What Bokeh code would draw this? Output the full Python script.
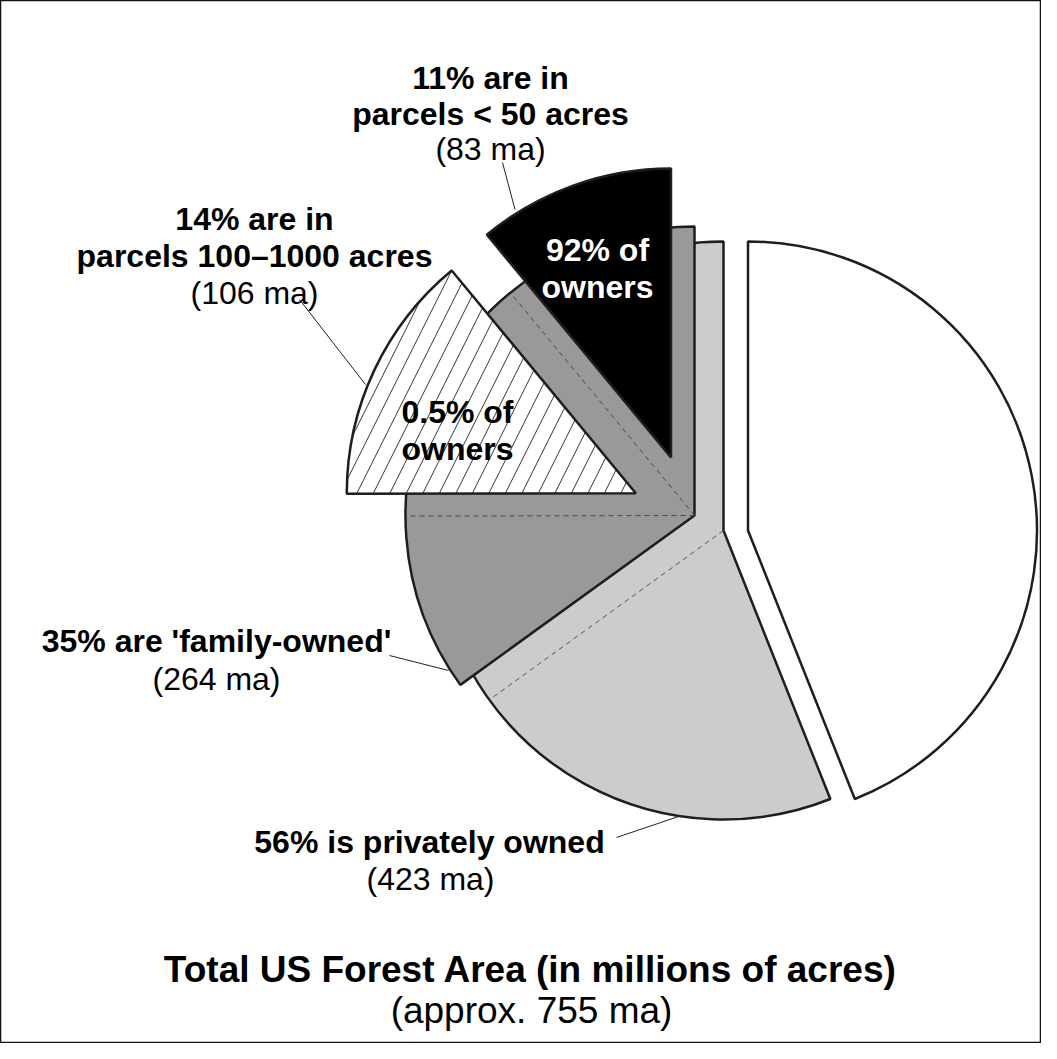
import math
from bokeh.plotting import figure
from bokeh.models import Range1d
from bokeh.core.properties import value
from bokeh.embed import file_html
from bokeh.resources import INLINE

# ---------------- data (millions of acres) ----------------
total_acres = 755
private_acres = 423
family_acres = 264
small_parcel_acres = 83      # parcels < 50 acres
mid_parcel_acres = 106       # parcels 100–1000 acres
small_owner_share = "92%"
mid_owner_share = "0.5%"
small_range_label = "< 50 acres"
mid_range_label = "100–1000 acres"
chart_title = "Total US Forest Area (in millions of acres)"


def pct(v):
    return round(100 * v / total_acres)


def ang(acres):
    # angle (deg) swept by a share of the total
    return 360.0 * acres / total_acres


# ---------------- layout ----------------
W, H = 1041, 1043


def Y(py):
    # reference pixel row -> data y (y axis points up)
    return 1059 - py


R = 289
FONT = value("Liberation Sans")
EDGE = "#1e1e1e"

p = figure(width=W, height=H, x_range=Range1d(8, 1049), y_range=Range1d(8, 1051),
           output_backend="svg", toolbar_location=None, min_border=0,
           x_axis_location=None, y_axis_location=None)
p.grid.visible = False
p.outline_line_color = "#111111"
p.outline_line_width = 1.5
p.background_fill_color = "white"
p.border_fill_color = "white"

top = 90.0
a_private = ang(private_acres)
a_family = ang(family_acres)
a_small = ang(small_parcel_acres)
a_mid = ang(mid_parcel_acres)

rad = math.radians

# private (light grey)
pc = (731, Y(538))
p.wedge(x=[pc[0]], y=[pc[1]], radius=R, start_angle=rad(top), end_angle=rad(top + a_private),
        fill_color="#cccccc", line_color=EDGE, line_width=2.5)
# public / other (white)
uc = (755.5, Y(538))
p.wedge(x=[uc[0]], y=[uc[1]], radius=R, start_angle=rad(top + a_private), end_angle=rad(top + 360),
        fill_color="white", line_color=EDGE, line_width=2.5)

# dashed original family edge in private slice
a = rad(top + a_family)
p.segment(x0=[pc[0]], y0=[pc[1]], x1=[pc[0] + R * math.cos(a)], y1=[pc[1] + R * math.sin(a)],
          line_color="#555555", line_width=1, line_dash="5 4")

# family (dark grey)
fc = (702, Y(523))
p.wedge(x=[fc[0]], y=[fc[1]], radius=R, start_angle=rad(top), end_angle=rad(top + a_family),
        fill_color="#999999", line_color=EDGE, line_width=2.5)

# dashed original positions of exploded parcels
for acc in (a_small, a_small + a_mid):
    a = rad(top + acc)
    p.segment(x0=[fc[0]], y0=[fc[1]], x1=[fc[0] + (R - 2) * math.cos(a)], y1=[fc[1] + (R - 2) * math.sin(a)],
              line_color="#4a4a4a", line_width=1, line_dash="5 4")

# parcels < 50 acres (black, exploded)
sc = (678.5, Y(465))
p.wedge(x=[sc[0]], y=[sc[1]], radius=R, start_angle=rad(top), end_angle=rad(top + a_small),
        fill_color="black", line_color=EDGE, line_width=2.5)

# parcels 100–1000 acres (hatched, exploded)
mc = (643.3, Y(500.7))
p.wedge(x=[mc[0]], y=[mc[1]], radius=R, start_angle=rad(top + a_small), end_angle=rad(top + a_small + a_mid),
        fill_color="white", hatch_pattern="/", hatch_color="#333333", hatch_weight=1, hatch_scale=33,
        line_color=EDGE, line_width=2.5)

# leader lines
lx0 = [510, 307, 397, 624]
ly0 = [Y(170), Y(307), Y(663), Y(845)]
lx1 = [522.5, 373, 456, 689]
ly1 = [Y(217), Y(392), Y(678), Y(823)]
p.segment(x0=lx0, y0=ly0, x1=lx1, y1=ly1, line_color="#222222", line_width=1)

# labels
bold_text = [f"{pct(small_parcel_acres)}% are in", f"parcels {small_range_label}",
             f"{pct(mid_parcel_acres)}% are in", f"parcels {mid_range_label}",
             f"{mid_owner_share} of", "owners",
             f"{pct(family_acres)}% are 'family-owned'",
             f"{pct(private_acres)}% is privately owned"]
bold_x = [498, 498, 262, 262, 465, 465, 224, 437]
bold_y = [Y(85), Y(121), Y(226), Y(263), Y(419), Y(456), Y(648), Y(849)]
p.text(x=bold_x, y=bold_y, text=bold_text, text_align="center", text_baseline="alphabetic",
       text_font=FONT, text_font_size="32px", text_font_style="bold", text_color="black")

white_text = [f"{small_owner_share} of", "owners"]
p.text(x=[605, 605], y=[Y(257), Y(294)], text=white_text, text_align="center",
       text_baseline="alphabetic", text_font=FONT, text_font_size="32px",
       text_font_style="bold", text_color="white")

reg_text = [f"({small_parcel_acres} ma)", f"({mid_parcel_acres} ma)",
            f"({family_acres} ma)", f"({private_acres} ma)"]
p.text(x=[498, 262, 224, 438], y=[Y(156), Y(300), Y(686), Y(886)], text=reg_text,
       text_align="center", text_baseline="alphabetic", text_font=FONT,
       text_font_size="32px", text_color="black")

p.text(x=[538], y=[Y(977)], text=[chart_title], text_align="center", text_baseline="alphabetic",
       text_font=FONT, text_font_size="37px", text_font_style="bold", text_color="black")
p.text(x=[539], y=[Y(1018)], text=[f"(approx. {total_acres} ma)"], text_align="center",
       text_baseline="alphabetic", text_font=FONT, text_font_size="37px", text_color="black")

open("out.html", "w").write(file_html(p, INLINE))
